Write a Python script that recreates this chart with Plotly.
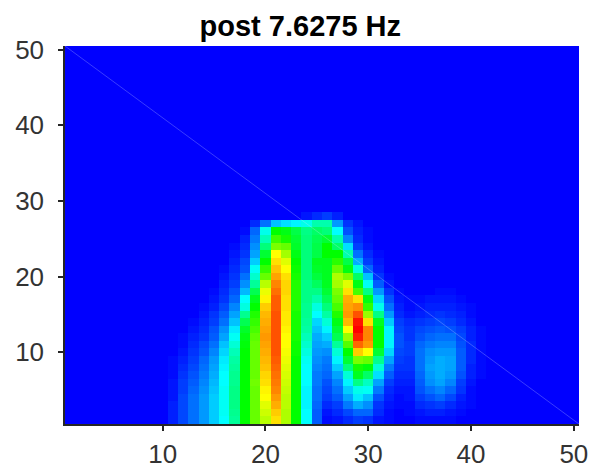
import plotly.graph_objects as go

title_text = "post 7.6275 Hz"
x_ticks = [10, 20, 30, 40, 50]
y_ticks = [10, 20, 30, 40, 50]
n_cells = 50
first_col = 11

# Values per column, listed from the bottom row upward (colour position 0-100)
col11 = [3,3,3,2,2,2,1,1,1,0]
col12 = [7,7,7,7,6,6,5,4,3,2,1,1]
col13 = [11,11,11,11,10,9,8,7,6,5,4,3,2,1]
col14 = [15,15,15,15,14,13,12,11,10,8,7,5,4,3,2,1]
col15 = [20,20,20,20,19,18,17,16,15,13,11,9,8,6,5,3,2,1]
col16 = [25,26,26,26,26,25,25,24,23,21,19,16,14,11,9,7,5,4,3,2,1]
col17 = [35,36,37,37,37,36,36,35,34,32,29,26,23,19,16,13,10,8,6,5,4,3,2,1]
col18 = [50,50,50,50,50,50,50,50,50,50,49,48,46,42,36,28,25,18,14,11,8,7,5,4,3,1]
col19 = [60,60,60,60,60,61,60,60,60,60,60,59,57,55,53,50,47,42,35,30,26,20,16,14,12,10,4]
col20 = [68,70,72,75,76,78,79,81,82,83,84,85,84,83,82,80,76,73,68,60,55,50,45,38,32,27,11]
col21 = [78,80,83,85,87,88,89,90,91,92,92,92,92,92,92,91,91,89,87,84,81,78,75,62,56,50,19]
col22 = [67,67,68,68,69,70,71,72,73,74,75,75,76,77,77,78,78,79,79,78,75,72,66,60,52,48,22]
col23 = [50,50,50,50,50,50,50,50,50,51,51,52,52,52,52,53,53,53,53,52,51,50,48,46,45,43,24]
col24 = [25,25,24,24,24,25,25,25,26,28,30,32,34,35,36,36,37,37,37,38,38,38,38,38,38,37,27,2]
col25 = [9,9,10,11,11,12,12,13,14,15,16,17,19,21,25,28,33,37,41,44,46,47,43,43,42,40,33,4]
col26 = [1,2,4,6,7,8,10,11,12,14,17,20,24,29,34,38,42,45,47,47,47,47,50,50,45,38,33,6]
col27 = [2,4,6,9,11,13,16,20,24,29,35,42,45,48,53,57,60,62,66,67,60,54,50,40,33,25,15,3]
col28 = [4,7,12,16,20,24,29,38,45,50,58,65,75,82,85,84,83,78,72,62,48,43,33,22,13,8,5]
col29 = [6,10,17,23,27,37,47,52,62,80,90,97,100,98,92,86,78,57,48,40,28,17,11,6,4,3,2]
col30 = [5,10,14,19,26,31,40,49,60,75,85,87,87,78,65,55,48,37,26,19,10,6,4,2,1,1]
col31 = [2,4,5,8,12,16,22,29,36,45,50,50,50,47,37,27,21,15,9,5,3,2,1]
col32 = [1,1,2,3,4,6,9,12,16,21,24,24,24,20,15,11,8,5,2,1]
col33 = [0,0,1,1,2,3,4,5,6,7,8,8,7,6,4,3,2,1]
col34 = [0,1,1,2,2,3,4,5,5,6,6,5,5,4,2,1,1]
col35 = [1,2,4,6,8,9,10,11,11,11,10,8,7,5,3,2,1]
col36 = [1,3,5,8,11,14,15,16,15,14,12,10,8,6,4,3,2]
col37 = [1,3,6,10,13,16,17,17,17,15,13,11,9,7,5,3,2,1]
col38 = [1,2,4,7,10,13,15,16,16,15,13,11,8,6,4,3,2,1]
col39 = [0,1,2,3,5,6,8,9,9,9,8,7,6,4,3,2,1]
col40 = [0,0,1,1,1,2,3,3,4,4,4,3,3,2,1,1]
col41 = [0,0,0,0,0,0,1,1,1,1,1,1,1]

columns = [col11,col12,col13,col14,col15,col16,col17,col18,col19,col20,
           col21,col22,col23,col24,col25,col26,col27,col28,col29,col30,
           col31,col32,col33,col34,col35,col36,col37,col38,col39,col40,col41]

diag_x = [0.5, 50.5]
diag_y = [50.5, 0.5]

cell_ids = list(range(1, n_cells + 1))
z = [[0] * n_cells for _ in range(n_cells)]
for i, col in enumerate(columns):
    for r, v in enumerate(col):
        z[r][first_col - 1 + i] = v

colorscale = [[0, "rgb(0,0,255)"], [0.25, "rgb(0,255,255)"], [0.5, "rgb(0,255,0)"],
              [0.75, "rgb(255,255,0)"], [1, "rgb(255,0,0)"]]

fig = go.Figure()
fig.add_trace(go.Heatmap(z=z, x=cell_ids, y=cell_ids, zmin=0, zmax=100, zsmooth=False,
                         colorscale=colorscale, showscale=False))
fig.add_trace(go.Scatter(x=diag_x, y=diag_y, mode="lines", showlegend=False,
                         line=dict(color="rgba(215,225,255,0.45)", width=0.6)))

axis_common = dict(range=[0.5, 50.5], showgrid=False, zeroline=False, showline=True,
                   linecolor="#262626", linewidth=1.5, ticks="outside", ticklen=5,
                   tickwidth=1.5, tickcolor="#262626", automargin=False,
                   tickfont=dict(family="Liberation Sans", size=26, color="#333333"))
fig.update_xaxes(tickvals=x_ticks, ticklabelstandoff=1, **axis_common)
fig.update_yaxes(tickvals=y_ticks, ticklabelstandoff=9, **axis_common)

fig.update_layout(
    width=590, height=469, margin=dict(l=65, r=11, t=46, b=45, autoexpand=False),
    paper_bgcolor="white", plot_bgcolor="white", showlegend=False,
    title=dict(text="<b>" + title_text + "</b>", x=0.509, xanchor="center", y=0.945, yanchor="middle",
               font=dict(family="Liberation Sans", size=29, color="#000000")),
)
fig.write_html("out.html", config={"displayModeBar": False},
               post_script="document.body.style.margin='0';")
